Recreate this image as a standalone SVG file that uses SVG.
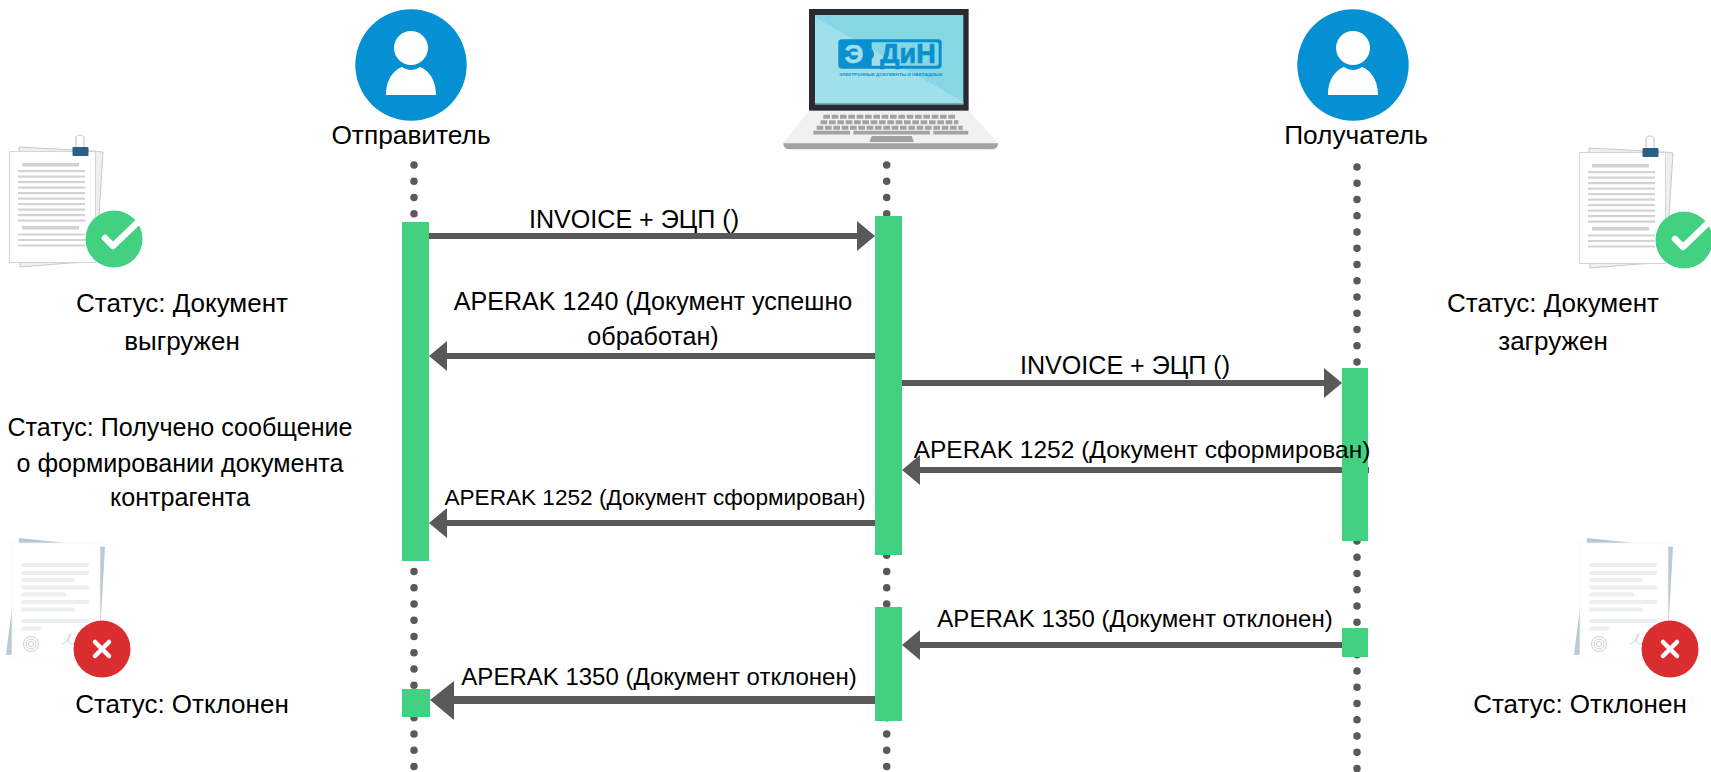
<svg xmlns="http://www.w3.org/2000/svg" width="1711" height="772" viewBox="0 0 1711 772">
<style>
text{font-family:"Liberation Sans",Arial,sans-serif;fill:#000;text-anchor:middle}
.h{font-size:26.3px}.l{font-size:26px}.m{font-size:25.1px}.s{font-size:24px}
.life{stroke:#595959;stroke-width:7.5;stroke-linecap:round;stroke-dasharray:0 16.26;fill:none}
.bar{fill:#42d081}
.ln{stroke:#595959;stroke-width:6;fill:none}
.hd{fill:#595959}
.pc{fill:#0590d4}
.gl{fill:#d3d3d3}.gl2{fill:#edf0f0}
</style>
<defs>
<g id="person"><circle r="55.7" class="pc"/><circle cy="-17" r="17" fill="#fff"/><path d="M-25 30C-25 12-15 4-9 2C-3 6 3 6 9 2C15 4 25 12 25 30Z" fill="#fff"/></g>
<g id="docok">
<path d="M19 147L94 151L103 152L96 262L70 263L20 267Z" fill="#efefef" stroke="#b5b5b5" stroke-width=".7"/>
<rect x="9.500" y="151.500" width="86" height="111" fill="#fff" stroke="#d5d5d5"/>
<rect x="22" y="163" width="57" height="3.500" class="gl"/>
<rect x="18" y="170" width="67" height="2.200" class="gl"/><rect x="18" y="175.500" width="67" height="2.200" class="gl"/><rect x="18" y="181" width="67" height="2.200" class="gl"/><rect x="18" y="186.500" width="67" height="2.200" class="gl"/><rect x="18" y="192" width="67" height="2.200" class="gl"/><rect x="18" y="197.500" width="67" height="2.200" class="gl"/><rect x="18" y="203" width="67" height="2.200" class="gl"/><rect x="18" y="208.500" width="67" height="2.200" class="gl"/><rect x="18" y="214" width="67" height="2.200" class="gl"/><rect x="18" y="219.500" width="67" height="2.200" class="gl"/>
<rect x="22" y="226" width="57" height="3.500" class="gl"/>
<rect x="18" y="233.500" width="67" height="2" class="gl"/><rect x="18" y="239" width="67" height="2" class="gl"/><rect x="18" y="244.500" width="67" height="2" class="gl"/>
<path d="M76 147V139a4 4 0 0 1 8 0V147" fill="none" stroke="#c9c9c9" stroke-width="1.200"/>
<rect x="72.500" y="147" width="16" height="9" rx="1" fill="#2c5f87"/>
<circle cx="114" cy="239" r="28.500" fill="#42d081"/>
<path d="M105 238L113 246L138 222" fill="none" stroke="#fff" stroke-width="6.500" stroke-linecap="round" stroke-linejoin="round"/>
</g>
<g id="docno">
<path d="M19 538L105 547L99 650L6 655L13 600Z" fill="#b9cad3"/>
<rect x="12" y="543" width="88" height="116" fill="#fff" stroke="#f3f5f5" stroke-width=".7"/>
<rect x="21" y="563" width="68" height="4" class="gl2"/><rect x="21" y="571" width="68" height="4" class="gl2"/><rect x="21" y="578" width="54" height="4" class="gl2"/><rect x="21" y="585.500" width="68" height="4" class="gl2"/><rect x="21" y="592.500" width="45" height="4" class="gl2"/><rect x="21" y="600" width="68" height="4" class="gl2"/><rect x="21" y="607.500" width="54" height="4" class="gl2"/><rect x="21" y="619" width="68" height="4" class="gl2"/><rect x="21" y="626.500" width="20" height="4" class="gl2"/>
<circle cx="31" cy="644" r="7.500" fill="none" stroke="#c8d4da" stroke-width="1"/><circle cx="31" cy="644" r="5" fill="none" stroke="#c8d4da" stroke-width="1"/><circle cx="31" cy="644" r="2.500" fill="none" stroke="#c8d4da" stroke-width="1"/>
<path d="M62 644C70 642 72 632 70 634C66 638 68 646 75 644" fill="none" stroke="#c8d4da" stroke-width="1"/>
<circle cx="102" cy="649" r="28.500" fill="#d92d2f"/>
<path d="M95 642L109 656M109 642L95 656" stroke="#fff" stroke-width="4.500" stroke-linecap="round"/>
</g>
</defs>

<g id="connectors">
<path class="life" d="M414 165V772"/>
<path class="life" d="M886.700 165V772"/>
<path class="life" d="M1357 167V772"/>
<path class="ln" d="M429 236H860"/><polygon class="hd" points="875,236 857,221 857,251"/>
<path class="ln" d="M875 356H445"/><polygon class="hd" points="429,356 447,341 447,371"/>
<path class="ln" d="M902 383H1326"/><polygon class="hd" points="1342,383 1324,368 1324,398"/>
<path class="ln" d="M1369 470H918"/><polygon class="hd" points="902,470 920,455 920,485"/>
<path class="ln" d="M875 523H445"/><polygon class="hd" points="429,523 447,508 447,538"/>
<path class="ln" d="M1342 645H918"/><polygon class="hd" points="902,645 920,630 920,660"/>
<path class="ln" style="stroke-width:8" d="M875 700H450"/><polygon class="hd" points="430,700 454,681 454,720"/>
</g>

<g id="activations">
<rect class="bar" x="402" y="222" width="27" height="339"/>
<rect class="bar" x="875" y="216" width="27" height="339"/>
<rect class="bar" x="875" y="607" width="27" height="114"/>
<rect class="bar" x="1342" y="368" width="26" height="173"/>
<rect class="bar" x="1342" y="628" width="26" height="29"/>
<rect class="bar" x="402" y="689" width="28" height="28"/>
</g>

<g id="sender"><use href="#person" x="411" y="65"/><text class="h" x="411" y="144">Отправитель</text></g>
<g id="receiver"><use href="#person" x="1353" y="65"/><text class="h" x="1356" y="144">Получатель</text></g>

<g id="laptop" transform="translate(770 0) scale(.3333)">
<path d="M117 332H596L684 428Q684 448 665 448H60Q40 448 40 428Z" fill="#f1f1f1"/>
<path d="M40 430H684Q684 448 665 448H60Q40 448 40 430Z" fill="#a3a3a3"/>
<rect x="117" y="27" width="479" height="305" fill="#2a2a30"/>
<rect x="135" y="45" width="445" height="268" fill="#84d7e3"/>
<path d="M135 52L580 305V313H135Z" fill="#9fe0ea"/>
<rect x="135" y="310" width="445" height="4" fill="#5f8f99"/>
<g stroke="#a3a3a3" stroke-width="12" fill="none" stroke-dasharray="20 5">
<path d="M160 350H555"/><path d="M152 367H565"/><path d="M140 383H578"/>
</g>
<path d="M130 398H240M250 398H480M490 398H595" stroke="#a3a3a3" stroke-width="11" fill="none"/>
<polygon points="305,408 425,408 432,426 298,426" fill="#a3a3a3"/>
<path fill-rule="evenodd" d="M215 118H505Q515 118 515 128V196Q515 206 505 206H215Q205 206 205 196V128Q205 118 215 118ZM305 127V146Q320 162 305 178V197H499Q506 197 506 190V134Q506 127 499 127Z" fill="#0a8fd0"/>
<text x="252" y="190" style="font-size:80px;font-weight:bold;fill:#9fe0ea;stroke:#9fe0ea;stroke-width:1.500">Э</text>
<text x="414" y="190" style="font-size:81px;font-weight:bold;fill:#0a8fd0;stroke:#0a8fd0;stroke-width:2">ДиН</text>
<text x="362" y="228" style="font-size:11px;font-weight:bold;fill:#0a8fd0" textLength="310" lengthAdjust="spacingAndGlyphs">ЭЛЕКТРОННЫЕ ДОКУМЕНТЫ И НАКЛАДНЫЕ</text>
</g>

<g id="doc-sender-ok"><use href="#docok"/></g>
<g id="doc-receiver-ok"><use href="#docok" x="1570" y="1"/></g>
<g id="doc-sender-rejected"><use href="#docno"/></g>
<g id="doc-receiver-rejected"><use href="#docno" x="1568"/></g>

<g id="labels">
<text class="m" x="634" y="228">INVOICE + ЭЦП ()</text>
<text class="m" x="653" y="310">APERAK 1240 (Документ успешно</text>
<text class="m" x="653" y="345">обработан)</text>
<text class="m" x="1125" y="374">INVOICE + ЭЦП ()</text>
<text style="font-size:24.500px" x="1142" y="458">APERAK 1252 (Документ сформирован)</text>
<text style="font-size:22.600px" x="655" y="505">APERAK 1252 (Документ сформирован)</text>
<text class="s" x="1135" y="627">APERAK 1350 (Документ отклонен)</text>
<text class="s" x="659" y="685">APERAK 1350 (Документ отклонен)</text>
<text class="l" x="182" y="312">Статус: Документ</text>
<text class="l" x="182" y="350">выгружен</text>
<text class="m" x="180" y="436">Статус: Получено сообщение</text>
<text class="m" x="180" y="472">о формировании документа</text>
<text class="m" x="180" y="506">контрагента</text>
<text class="l" x="182" y="713">Статус: Отклонен</text>
<text class="l" x="1553" y="312">Статус: Документ</text>
<text class="l" x="1553" y="350">загружен</text>
<text class="l" x="1580" y="713">Статус: Отклонен</text>
</g>
</svg>
